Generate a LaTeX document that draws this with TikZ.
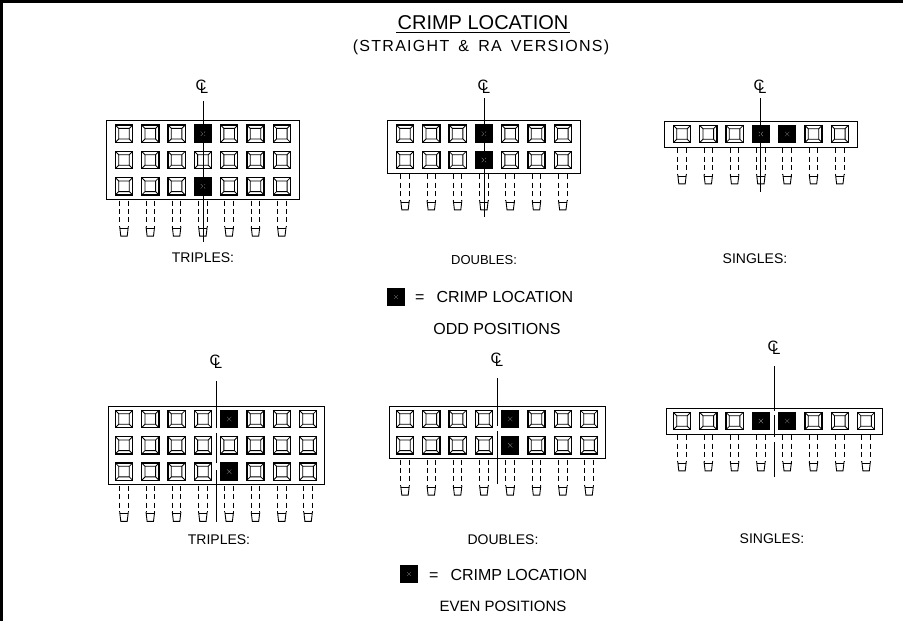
\documentclass[tikz,border=0pt]{standalone}
\usepackage{fontspec}
\setmainfont{Liberation Sans}
\newfontfamily\cadwide[LetterSpace=8,WordSpace=1.6]{Liberation Sans}
\tikzset{
  x=1pt,y=-1pt,
  frame/.style={fill=black,draw=none},
  housing/.style={draw=black,line width=1pt,fill=white},
  cavity/.style={draw=black,line width=1.3pt},
  cavityin/.style={draw=black,line width=.85pt},
  crimpcell/.style={fill=black,draw=none},
  crimpx/.style={draw=black!45,line width=.25pt},
  pin/.style={draw=black,line width=.85pt,dash pattern=on 5pt off 3.4pt},
  pintip/.style={draw=black,line width=.9pt},
  axis/.style={draw=black,line width=.9pt},
  label/.style={font=\fontsize{14}{14}\selectfont,inner sep=0pt,anchor=center,text=black},
  clmark/.style={font=\fontsize{15}{15}\selectfont,inner sep=0pt,text=black}
}
% #1 first cell x, #2 top y, #3 columns, #4 rows, #5 box margin, #6 pin length, #7 crimp cells col/row
\newcommand{\connector}[7]{%
  \pgfmathsetmacro{\cellstep}{26.3}
  \pgfmathsetmacro{\boxl}{#1-#5}
  \pgfmathsetmacro{\boxr}{#1+(#3-1)*\cellstep+#5}
  \pgfmathsetmacro{\boxb}{#2+#4*\cellstep}
  \draw[housing] (\boxl,#2) rectangle (\boxr,\boxb);
  \foreach \c in {1,...,#3}{
    \pgfmathsetmacro{\cx}{#1+(\c-1)*\cellstep}
    \foreach \r in {1,...,#4}{
      \pgfmathsetmacro{\cy}{#2+13+(\r-1)*\cellstep}
      \draw[cavity] (\cx-8.6,\cy-8.6) rectangle (\cx+8.6,\cy+8.6);
      \draw[cavityin] (\cx-5.3,\cy-5.3) rectangle (\cx+5.3,\cy+5.3)
        (\cx-8.6,\cy-8.6) -- (\cx-5.3,\cy-5.3) (\cx+8.6,\cy-8.6) -- (\cx+5.3,\cy-5.3)
        (\cx-8.6,\cy+8.6) -- (\cx-5.3,\cy+5.3) (\cx+8.6,\cy+8.6) -- (\cx+5.3,\cy+5.3);
    }
    \pgfmathsetmacro{\py}{\boxb+#6}
    \draw[pin] (\cx-4.3,\boxb+1) -- (\cx-4.3,\py) (\cx+4.3,\boxb+1) -- (\cx+4.3,\py);
    \draw[pintip] (\cx-4.3,\py) -- (\cx-3.2,\py+9.5) -- (\cx+3.2,\py+9.5) -- (\cx+4.3,\py);
    \draw[pintip,line width=.35pt] (\cx-4.3,\py+1.5) -- (\cx+4.3,\py+1.5);
  }
  \foreach \c/\r in {#7}{
    \pgfmathsetmacro{\cx}{#1+(\c-1)*\cellstep}
    \pgfmathsetmacro{\cy}{#2+13+(\r-1)*\cellstep}
    \fill[crimpcell] (\cx-9,\cy-9) rectangle (\cx+9,\cy+9);
    \draw[crimpx] (\cx-2.2,\cy-2.2) -- (\cx+2.2,\cy+2.2) (\cx-2.2,\cy+2.2) -- (\cx+2.2,\cy-2.2);
  }
}
% #1 x, #2 y of the centre-line mark
\newcommand{\clsym}[2]{%
  \node[clmark] at (#1,#2) {C\kern-6.5pt\raisebox{-2.5pt}{L}};
}
\begin{document}
\begin{tikzpicture}
\useasboundingbox (0,0) rectangle (903,621);
\fill[frame] (0,0) rectangle (903,3.2);
\fill[frame] (0,0) rectangle (3.2,621);

\connector{124}{120.7}{7}{3}{18}{27}{4/1,4/3}
\connector{405}{120.7}{7}{2}{18}{27}{4/1,4/2}
\connector{682}{121}{7}{1}{18}{27}{4/1,5/1}
\connector{124}{406}{8}{3}{16}{27}{5/1,5/3}
\connector{405}{406}{8}{2}{16}{27}{5/1,5/2}
\connector{682}{408}{8}{1}{16}{27}{4/1,5/1}

\draw[axis] (203,101) -- (203,242);
\draw[axis] (484,98) -- (484,217);
\draw[axis] (760.5,98) -- (760.5,192);
\draw[axis] (216.3,381) -- (216.3,428) (216.3,433) -- (216.3,463) (216.3,470) -- (216.3,522);
\draw[axis] (497,378) -- (497,426) (497,431) -- (497,484);
\draw[axis] (774.3,366) -- (774.3,411) (774.3,415) -- (774.3,437) (774.3,442) -- (774.3,477);

\clsym{202}{87}
\clsym{484}{87}
\clsym{760}{87}
\clsym{216}{362}
\clsym{497}{360}
\clsym{774}{348}

\node[label,font=\fontsize{20}{20}\selectfont] (title) at (483,23) {CRIMP  LOCATION};
\draw[line width=.7pt,black] (396,32) -- (570,32);
\node[label,font=\fontsize{16}{16}\selectfont\cadwide] (subtitle) at (481,47) {(STRAIGHT \& RA VERSIONS)};

\node[label] (t1) at (203,258) {TRIPLES:};
\node[label,font=\fontsize{13}{13}\selectfont] (d1) at (484,260) {DOUBLES:};
\node[label] (s1) at (755,259) {SINGLES:};
\node[label] (t2) at (219,540) {TRIPLES:};
\node[label] (d2) at (503,540) {DOUBLES:};
\node[label] (s2) at (772,539) {SINGLES:};

\fill[crimpcell] (387,288) rectangle (405,306);
\draw[crimpx] (394,295) -- (398,299) (394,299) -- (398,295);
\node[label,anchor=west,font=\fontsize{16}{16}\selectfont] (k1) at (415,297) {=\hspace{12pt}CRIMP LOCATION};
\node[label,font=\fontsize{16}{16}\selectfont] (odd) at (497,329) {ODD POSITIONS};

\fill[crimpcell] (400,565) rectangle (418,583);
\draw[crimpx] (407,572) -- (411,576) (407,576) -- (411,572);
\node[label,anchor=west,font=\fontsize{16}{16}\selectfont] (k2) at (429,575) {=\hspace{12pt}CRIMP LOCATION};
\node[label,font=\fontsize{15}{15}\selectfont] (even) at (503,606) {EVEN POSITIONS};
\end{tikzpicture}
\end{document}
